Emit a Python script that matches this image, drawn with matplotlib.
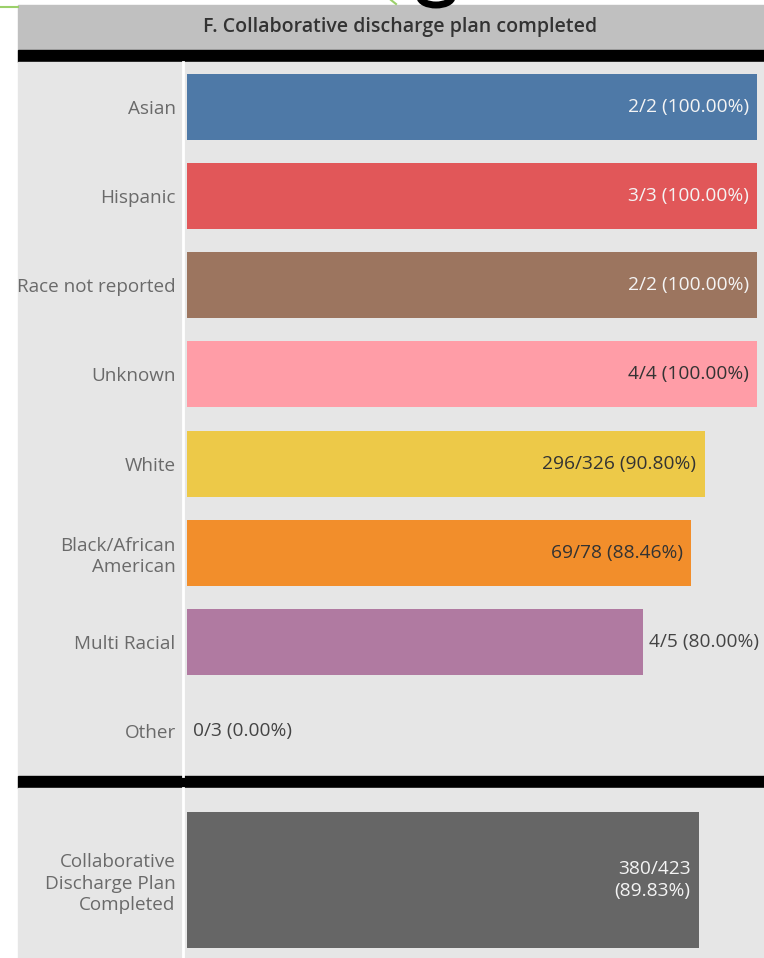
import matplotlib.pyplot as plt
from matplotlib.patches import Rectangle, Arc

# data
categories = ['Asian', 'Hispanic', 'Race not reported', 'Unknown', 'White',
              'Black/African\nAmerican', 'Multi Racial', 'Other']
completed = [2, 3, 2, 4, 296, 69, 4, 0]
totals = [2, 3, 2, 4, 326, 78, 5, 3]
bar_colors = ['#4e79a7', '#e15759', '#9c755f', '#ff9da7', '#edc948',
              '#f28e2b', '#b07aa1', '#bab0ac']

total_label = 'Collaborative\nDischarge Plan\nCompleted'
total_completed = 380
total_count = 423
total_color = '#666666'

title = 'F. Collaborative discharge plan completed'

W, H = 764, 958
plt.rcParams['font.family'] = ['Open Sans', 'DejaVu Sans']

fig = plt.figure(figsize=(W / 100, H / 100), dpi=100)
fig.patch.set_facecolor('white')


def rect(x0, y0, x1, y1):
    # pixel box (top-left origin) -> figure fraction rect
    return [x0 / W, 1 - y1 / H, (x1 - x0) / W, (y1 - y0) / H]


def text_color(c):
    r, g, b = [int(c[i:i + 2], 16) for i in (1, 3, 5)]
    lum = 0.299 * r + 0.587 * g + 0.114 * b
    return '#f4f4f4' if lum < 145 else '#333333'


# background panels
bg = fig.add_axes([0, 0, 1, 1])
bg.set_xlim(0, W)
bg.set_ylim(H, 0)
bg.axis('off')
bg.add_patch(Rectangle((18, 5), W - 18, 45, color='#c0c0c0'))
bg.add_patch(Rectangle((18, 50), W - 18, 12, color='black'))
bg.add_patch(Rectangle((18, 62), W - 18, 714, color='#e6e6e6'))
bg.add_patch(Rectangle((18, 776), W - 18, 12, color='black'))
bg.add_patch(Rectangle((18, 788), W - 18, H - 788, color='#e6e6e6'))
bg.plot([183, 183], [62, 776], color='white', lw=2)
bg.plot([183, 183], [788, H], color='white', lw=2)
bg.plot([0, 18], [7, 7], color='#9bd06a', lw=1.5)
bg.plot([391, 396], [0, 4], color='#9bd06a', lw=1.5)
bg.add_patch(Arc((436, -3), 32, 16, theta1=0, theta2=180, color='black', lw=5))
bg.text(400, 27, title, ha='center', va='center', fontsize=14,
        fontweight='semibold', color='#333333')

x_left = -3 * 100 / 571
x_right = 100 + 7 * 100 / 571

# main bar chart
ax = fig.add_axes(rect(184, 62, W, 776))
ax.patch.set_alpha(0)
pcts = [c / t * 100 for c, t in zip(completed, totals)]
ax.barh(range(len(categories)), pcts, height=0.74, color=bar_colors)
ax.set_xlim(x_left, x_right)
ax.set_ylim(len(categories) - 0.5, -0.5)
ax.set_yticks(range(len(categories)), labels=categories)
ax.tick_params(axis='y', length=0, pad=6, labelsize=13.6, labelcolor='#6a6a6a')
ax.set_xticks([])
for s in ax.spines.values():
    s.set_visible(False)
for lbl in ax.get_yticklabels():
    lbl.set_linespacing(1.25)

for i, (c, t, p) in enumerate(zip(completed, totals, pcts)):
    label = f'{c}/{t} ({p:.2f}%)'
    if p >= 85:
        ax.annotate(label, (p, i), xytext=(-6, 0), textcoords='offset points',
                    ha='right', va='center', fontsize=13.8,
                    color=text_color(bar_colors[i]))
    else:
        ax.annotate(label, (p, i), xytext=(4, 0), textcoords='offset points',
                    ha='left', va='center', fontsize=13.8, color='#444444')

# overall bar
ax2 = fig.add_axes(rect(184, 788, W, H))
ax2.patch.set_alpha(0)
total_pct = total_completed / total_count * 100
ax2.barh([0], [total_pct], height=0.8, color=total_color)
ax2.set_xlim(x_left, x_right)
ax2.set_ylim(0.459, -0.541)
ax2.set_yticks([0], labels=[total_label])
ax2.tick_params(axis='y', length=0, pad=6, labelsize=13.6, labelcolor='#6a6a6a')
ax2.get_yticklabels()[0].set_linespacing(1.25)
ax2.set_xticks([])
for s in ax2.spines.values():
    s.set_visible(False)
ax2.annotate(f'{total_completed}/{total_count}\n({total_pct:.2f}%)', (total_pct, 0),
             xytext=(-6, 0), textcoords='offset points', ha='right', va='center',
             fontsize=13.8, color=text_color(total_color), linespacing=1.3)

fig.savefig('out.png', dpi=100, facecolor=fig.get_facecolor())
